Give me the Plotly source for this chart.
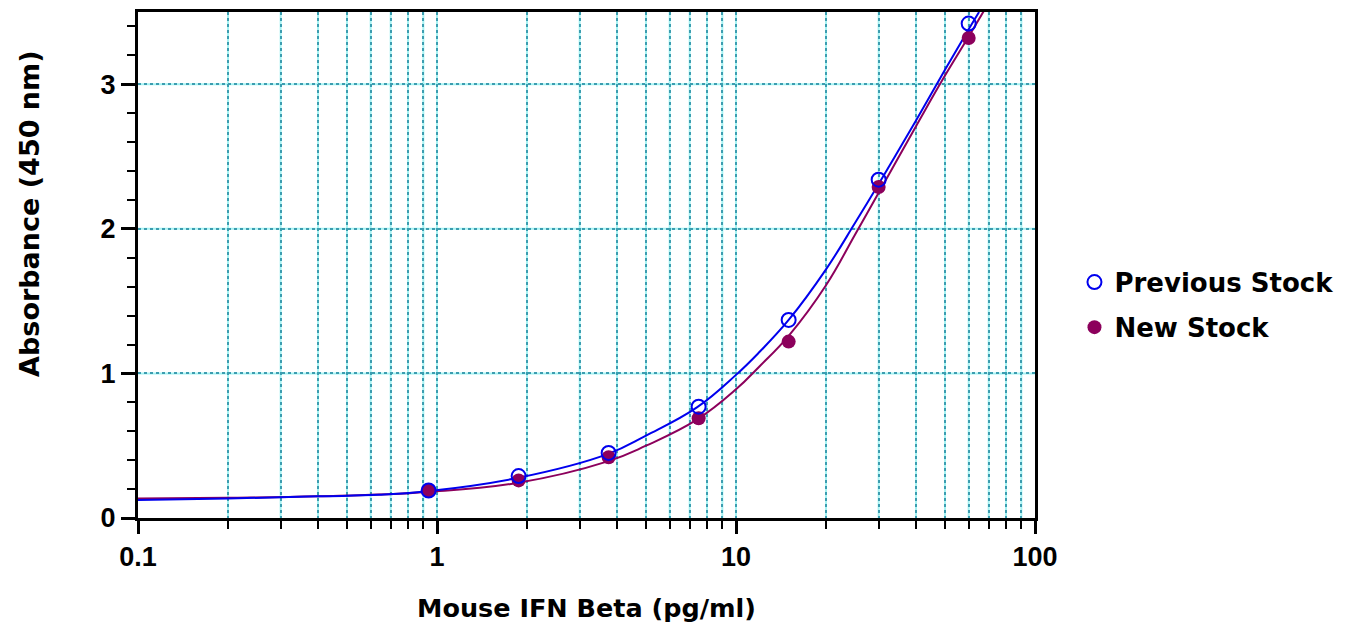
import plotly.graph_objects as go

# Measured points
conc = [0.9375, 1.875, 3.75, 7.5, 15, 30, 60]
prev_abs = [0.19, 0.29, 0.45, 0.77, 1.37, 2.34, 3.42]
new_abs = [0.19, 0.26, 0.42, 0.69, 1.22, 2.29, 3.32]

# Fitted curves
prev_fit_x = [0.1, 0.2, 0.4, 0.64, 0.93, 1.85, 3.7, 5.0, 7.4, 10, 12, 15, 20, 25, 30, 40, 50, 60, 65]
prev_fit_y = [0.125, 0.135, 0.15, 0.16, 0.185, 0.276, 0.44, 0.57, 0.765, 0.99, 1.15, 1.37, 1.72, 2.04, 2.31, 2.75, 3.10, 3.38, 3.50]
new_fit_x = [0.1, 0.2, 0.4, 0.93, 1.85, 3.7, 5.0, 7.4, 10, 12, 15, 20, 25, 30, 40, 50, 60, 68]
new_fit_y = [0.135, 0.14, 0.15, 0.18, 0.242, 0.39, 0.50, 0.68, 0.89, 1.05, 1.26, 1.61, 1.96, 2.25, 2.71, 3.06, 3.33, 3.52]

x_major = [0.1, 1, 10, 100]
x_major_text = ["0.1", "1", "10", "100"]
x_minor = [0.2, 0.3, 0.4, 0.5, 0.6, 0.7, 0.8, 0.9,
           2, 3, 4, 5, 6, 7, 8, 9,
           20, 30, 40, 50, 60, 70, 80, 90]
y_major = [0, 1, 2, 3]
y_grid = [1, 2, 3]

BLUE = "#0000ee"
PURPLE = "#8c005c"
GRID_DARK = "#3c9db0"
GRID_LIGHT = "#a5f3f3"
FONT = "DejaVu Sans"
TICK_FONT = "Liberation Sans"

fig = go.Figure()

fig.add_trace(go.Scatter(x=new_fit_x, y=new_fit_y, mode="lines",
                         line=dict(color=PURPLE, width=2, shape="spline", smoothing=1.2),
                         showlegend=False, hoverinfo="skip"))
fig.add_trace(go.Scatter(x=prev_fit_x, y=prev_fit_y, mode="lines",
                         line=dict(color=BLUE, width=2, shape="spline", smoothing=1.2),
                         showlegend=False, hoverinfo="skip"))
fig.add_trace(go.Scatter(x=conc, y=new_abs, mode="markers", name="New Stock", legend="legend2",
                         marker=dict(symbol="circle", size=14, color=PURPLE, line=dict(width=0))))
fig.add_trace(go.Scatter(x=conc, y=prev_abs, mode="markers", name="Previous Stock", legend="legend",
                         marker=dict(symbol="circle-open", size=14, color=BLUE, line=dict(width=2, color=BLUE))))

# light cyan under-layer of the dotted grid
for v in x_minor + x_major[1:-1]:
    fig.add_shape(type="line", xref="x", yref="paper", x0=v, x1=v, y0=0, y1=1,
                  line=dict(color=GRID_LIGHT, width=2), layer="below")
for v in y_grid:
    fig.add_shape(type="line", xref="paper", yref="y", x0=0, x1=1, y0=v, y1=v,
                  line=dict(color=GRID_LIGHT, width=2), layer="below")

legend_common = dict(xanchor="left", yanchor="middle", bgcolor="rgba(0,0,0,0)",
                     font=dict(family=FONT, size=26, color="black", weight="bold"), itemwidth=30)

tickfont = dict(family=TICK_FONT, size=27, color="black", weight="bold")

fig.update_layout(
    width=1353, height=628,
    margin=dict(l=138, r=318, t=12, b=110),
    plot_bgcolor="white", paper_bgcolor="white",
    legend=dict(x=1.044, y=0.466, **legend_common),
    legend2=dict(x=1.044, y=0.377, **legend_common),
    xaxis=dict(
        type="log", range=[-1, 2], automargin=False,
        tickvals=x_major, ticktext=x_major_text,
        ticks="outside", ticklen=13, tickwidth=3, tickcolor="black",
        showline=True, linecolor="black", linewidth=3, mirror=True,
        showgrid=True, gridcolor=GRID_DARK, griddash="dot", gridwidth=2,
        tickfont=tickfont,
        minor=dict(tickvals=x_minor, ticks="outside", ticklen=8, tickwidth=2, tickcolor="black",
                   showgrid=True, gridcolor=GRID_DARK, griddash="dot", gridwidth=2),
        zeroline=False,
    ),
    yaxis=dict(
        range=[0, 3.5], tickvals=y_major, automargin=False,
        ticks="outside", ticklen=14, tickwidth=3, tickcolor="black",
        showline=True, linecolor="black", linewidth=3, mirror=True,
        showgrid=True, gridcolor=GRID_DARK, griddash="dot", gridwidth=2,
        tickfont=tickfont,
        minor=dict(dtick=0.2, tick0=0, ticks="outside", ticklen=8, tickwidth=2, tickcolor="black", showgrid=False),
        zeroline=False,
    ),
    annotations=[
        dict(text="Mouse IFN Beta (pg/ml)", xref="paper", yref="paper", x=0.5, y=-0.178,
             xanchor="center", yanchor="middle", showarrow=False,
             font=dict(family=FONT, size=25.5, color="black", weight="bold")),
        dict(text="Absorbance (450 nm)", xref="paper", yref="paper", x=-0.1204, y=0.601,
             xanchor="center", yanchor="middle", textangle=-90, showarrow=False,
             font=dict(family=FONT, size=27, color="black", weight="bold")),
    ],
)

fig.write_html("out.html", config={"displayModeBar": False},
               post_script="document.body.style.margin='0';")
